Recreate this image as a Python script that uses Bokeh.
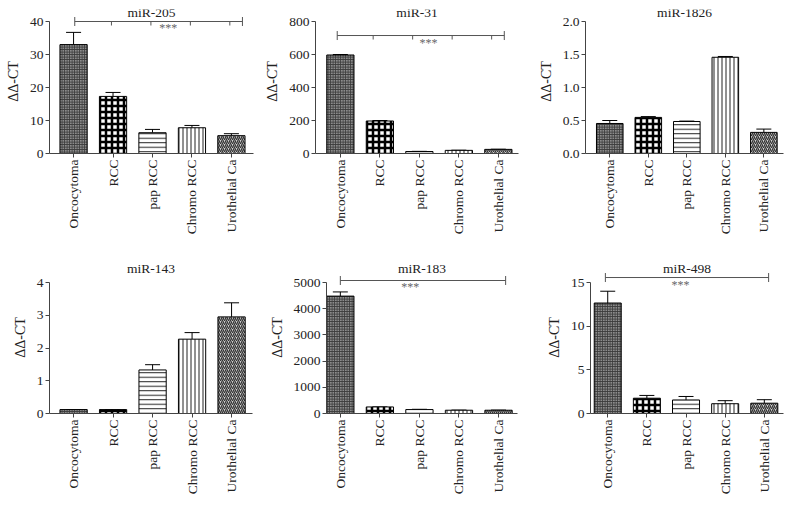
import math
from bokeh.plotting import figure
from bokeh.layouts import column, row
from bokeh.models import ColumnDataSource, Range1d, FixedTicker, Whisker, TeeHead, Label
from bokeh.embed import file_html
from bokeh.resources import INLINE

# ---------------- data ----------------
categories = ["Oncocytoma", "RCC", "pap RCC", "Chromo RCC", "Urothelial Ca"]

mir205_mean = [33.0, 17.3, 6.3, 7.8, 5.4]
mir205_err = [3.7, 1.2, 1.0, 0.7, 0.6]
mir205_ticks = [0, 10, 20, 30, 40]

mir31_mean = [597, 197, 12, 19, 25]
mir31_err = [3, 3, 1, 1, 1]
mir31_ticks = [0, 200, 400, 600, 800]

mir1826_mean = [0.455, 0.547, 0.485, 1.458, 0.32]
mir1826_err = [0.045, 0.012, 0.006, 0.012, 0.05]
mir1826_ticks = [0, 0.5, 1.0, 1.5, 2.0]
mir1826_tick_labels = ["0.0", "0.5", "1.0", "1.5", "2.0"]

mir143_mean = [0.12, 0.12, 1.33, 2.27, 2.95]
mir143_err = [0.0, 0.0, 0.16, 0.2, 0.43]
mir143_ticks = [0, 1, 2, 3, 4]

mir183_mean = [4480, 250, 150, 125, 125]
mir183_err = [160, 0, 10, 5, 5]
mir183_ticks = [0, 1000, 2000, 3000, 4000, 5000]

mir498_mean = [12.65, 1.75, 1.55, 1.12, 1.18]
mir498_err = [1.35, 0.32, 0.4, 0.35, 0.4]
mir498_ticks = [0, 5, 10, 15]

# ---------------- styles ----------------
FONT = "Liberation Serif"
TXT = "#222222"
AX = "#444444"

bar_fill = ["#8c8c8c", "white", "white", "white", "#cfcfcf"]
bar_hatch = ["cross", "cross", "horizontal_line", "vertical_line", "right_diagonal_line"]
bar_hatch_scale = [2.5, 6, 4.5, 4, 4]
bar_hatch_weight = [1, 2.5, 1, 1, 1.3]
bar_hatch_color = ["#3a3a3a", "black", "#222222", "#222222", "#333333"]


def make_panel(title, mean, err, ticks, tick_labels, width, border_left, border_right,
               height, border_top, border_bottom, frame_h, axis_px, title_px, lpad, rpad,
               bracket=None):
    top = ticks[-1]
    y_end = top * frame_h / axis_px
    p = figure(width=width, height=height, output_backend="svg", toolbar_location=None,
               x_range=Range1d(-lpad, len(categories) - 1 + rpad),
               y_range=Range1d(0, y_end),
               min_border_left=border_left, min_border_right=border_right,
               min_border_top=border_top, min_border_bottom=border_bottom)
    p.outline_line_color = None
    p.grid.visible = False
    p.background_fill_color = "white"
    p.border_fill_color = "white"

    xs = list(range(len(categories)))
    upper = [m + e for m, e in zip(mean, err)]
    src = ColumnDataSource(dict(x=xs, top=mean, upper=upper, fill=bar_fill, hatch=bar_hatch,
                                hscale=bar_hatch_scale, hweight=bar_hatch_weight,
                                hcolor=bar_hatch_color))
    p.vbar(x="x", top="top", bottom=0, width=0.69, source=src, fill_color="fill",
           line_color="black", line_width=1, hatch_pattern="hatch", hatch_scale="hscale",
           hatch_weight="hweight", hatch_color="hcolor")
    p.add_layout(Whisker(source=src, base="x", upper="upper", lower="top", dimension="height",
                         line_color="black", line_width=1, lower_head=None,
                         upper_head=TeeHead(size=15, line_color="black", line_width=1)))

    # axes
    p.yaxis.ticker = FixedTicker(ticks=ticks)
    if tick_labels is not None:
        p.yaxis.major_label_overrides = {t: l for t, l in zip(ticks, tick_labels)}
    p.yaxis.bounds = (0, top)
    p.yaxis.axis_label = "ΔΔ-CT"
    p.xaxis.ticker = FixedTicker(ticks=xs)
    p.xaxis.major_label_overrides = {i: c for i, c in enumerate(categories)}
    p.xaxis.major_label_orientation = math.pi / 2
    for ax in (p.xaxis, p.yaxis):
        ax.axis_line_color = AX
        ax.major_tick_line_color = AX
        ax.minor_tick_line_color = None
        ax.major_tick_in = 0
        ax.major_tick_out = 4
        ax.major_label_standoff = 2
        ax.major_label_text_font = FONT
        ax.major_label_text_font_size = "13.5px"
        ax.major_label_text_color = TXT
        ax.axis_label_text_font = FONT
        ax.axis_label_text_font_size = "14px"
        ax.axis_label_text_font_style = "normal"
        ax.axis_label_text_color = TXT
        ax.axis_label_standoff = 6

    # title
    xmid = (-lpad + len(categories) - 1 + rpad) / 2
    p.add_layout(Label(x=xmid, y=top * title_px / axis_px, text=title, text_align="center",
                       text_baseline="middle", text_font=FONT, text_font_size="13.5px",
                       text_color=TXT))

    if bracket is not None:
        bx0, bx1, level, tick_off, sx, sy = bracket
        bsrc = ColumnDataSource(dict(y=[level], x0=[bx0], x1=[bx1]))
        p.add_layout(Whisker(source=bsrc, base="y", lower="x0", upper="x1", dimension="width",
                             line_color="#555555", line_width=1,
                             lower_head=TeeHead(size=9, line_color="#555555", line_width=1),
                             upper_head=TeeHead(size=9, line_color="#555555", line_width=1)))
        if tick_off is not None:
            tx = [i + tick_off for i in xs[1:]]
            p.ray(x=tx, y=[level] * len(tx), length=4, length_units="screen",
                  angle=-math.pi / 2, line_color="#555555", line_width=1)
        p.add_layout(Label(x=sx, y=sy, text="***", text_align="center", text_baseline="middle",
                           text_font=FONT, text_font_size="12px", text_color="#666666"))
    return p


# top row: frame 144 px tall, axis length 132 px, title centre 141 px above zero
TOP = dict(height=257, border_top=9, border_bottom=104, frame_h=144, axis_px=132, title_px=141)
BOT = dict(height=241, border_top=4, border_bottom=85, frame_h=152, axis_px=131, title_px=145)

p1 = make_panel("miR-205", mir205_mean, mir205_err, mir205_ticks, None, 261, 49, 8,
                lpad=0.61, rpad=0.56, bracket=(0.03, 4.28, 40, -0.04, 2.4, 38.0), **TOP)
p2 = make_panel("miR-31", mir31_mean, mir31_err, mir31_ticks, None, 274, 54, 17,
                lpad=0.63, rpad=0.51, bracket=(-0.08, 4.15, 715, -0.17, 2.23, 670), **TOP)
p3 = make_panel("miR-1826", mir1826_mean, mir1826_err, mir1826_ticks, mir1826_tick_labels,
                249, 45, 1, lpad=0.63, rpad=0.51, **TOP)
p4 = make_panel("miR-143", mir143_mean, mir143_err, mir143_ticks, None, 260, 49, 8,
                lpad=0.61, rpad=0.53, **BOT)
p5 = make_panel("miR-183", mir183_mean, mir183_err, mir183_ticks, None, 283, 66, 26,
                lpad=0.35, rpad=0.48, bracket=(0.0, 4.18, 5076, None, 1.77, 4840), **BOT)
p6 = make_panel("miR-498", mir498_mean, mir498_err, mir498_ticks, None, 241, 45, 1,
                lpad=0.44, rpad=0.49, bracket=(-0.06, 4.11, 15.57, None, 1.86, 14.75), **BOT)

layout = column(row(p1, p2, p3), row(p4, p5, p6))
open("out.html", "w").write(file_html(layout, INLINE))
